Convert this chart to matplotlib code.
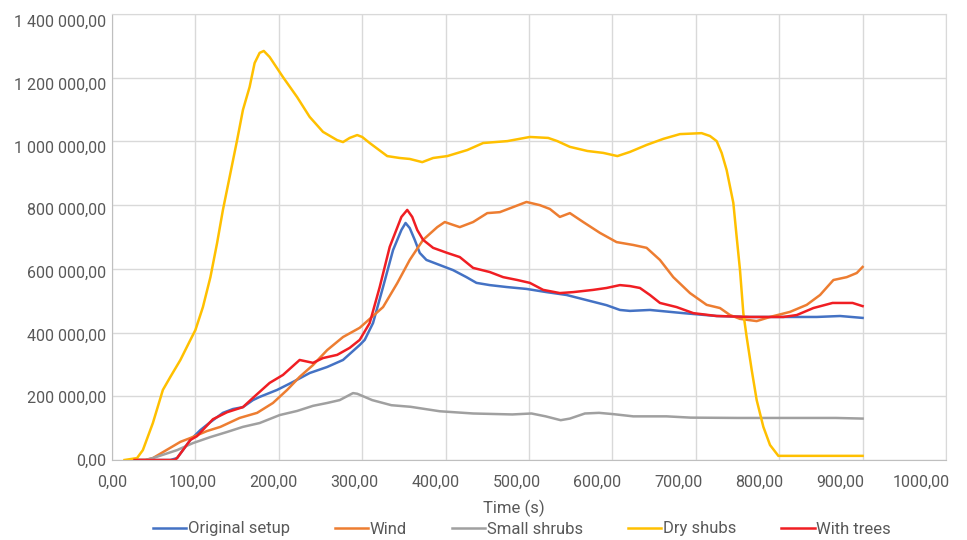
import matplotlib
matplotlib.use("Agg")
import matplotlib.pyplot as plt
from matplotlib.ticker import FuncFormatter

plt.rcParams["font.family"] = ["Roboto", "DejaVu Sans"]

# time (s) and heat release, values in thousands
t_orig = [27, 70, 78, 94, 106, 118, 133, 145, 157, 169, 177, 198, 217, 237, 258, 277, 297, 303, 313,
          325, 337, 347, 352, 357, 363, 369, 377, 393, 409, 425, 437, 453, 473, 497, 521, 545, 569,
          593, 609, 621, 645, 685, 725, 765, 805, 845, 873, 900]
v_orig = [0, 0, 6, 63, 94, 119, 148, 160, 166, 188, 198, 220, 245, 273, 292, 314, 361, 377, 430,
          543, 659, 722, 744, 728, 691, 650, 628, 612, 596, 574, 556, 549, 543, 537, 527, 518, 502,
          486, 471, 468, 471, 461, 452, 449, 449, 449, 452, 446]

t_wind = [27, 40, 49, 82, 94, 114, 130, 153, 174, 193, 210, 225, 241, 258, 277, 297, 325, 342, 357,
          373, 390, 399, 409, 417, 433, 450, 465, 481, 497, 513, 525, 537, 549, 565, 585, 605, 625,
          641, 657, 673, 693, 713, 729, 741, 753, 773, 789, 813, 833, 849, 865, 881, 893, 900]
v_wind = [0, 0, 6, 57, 69, 91, 104, 132, 148, 179, 220, 261, 298, 345, 386, 415, 480, 555, 628,
          691, 731, 747, 738, 731, 747, 775, 778, 794, 810, 800, 788, 763, 775, 747, 713, 684, 675,
          666, 628, 574, 524, 487, 477, 455, 443, 436, 449, 465, 487, 518, 565, 574, 587, 606]

t_small = [27, 40, 49, 78, 97, 118, 138, 157, 177, 201, 222, 241, 258, 273, 289, 294, 312, 335, 358,
           393, 433, 480, 503, 520, 538, 549, 567, 584, 601, 625, 665, 694, 752, 810, 868, 900]
v_small = [0, 0, 6, 31, 53, 72, 88, 104, 116, 141, 154, 170, 179, 188, 210, 208, 188, 172, 167,
           153, 146, 143, 146, 137, 125, 130, 146, 148, 144, 137, 137, 133, 132, 132, 132, 130]

t_dry = [15, 30, 37, 49, 61, 70, 82, 94, 100, 109, 118, 126, 133, 141, 150, 157, 165, 171, 177, 182,
         189, 205, 222, 237, 253, 270, 277, 285, 294, 300, 309, 330, 345, 357, 372, 385, 402, 426,
         445, 474, 501, 523, 534, 549, 570, 589, 606, 621, 641, 661, 681, 707, 717, 725, 731, 737,
         745, 749, 753, 757, 761, 767, 773, 781, 789, 799, 900]
v_dry = [0, 6, 31, 116, 220, 261, 314, 377, 408, 480, 574, 681, 785, 888, 1004, 1099, 1171, 1246,
         1278, 1284, 1265, 1202, 1139, 1077, 1030, 1004, 998, 1011, 1020, 1014, 995, 954, 948, 945,
         935, 948, 954, 973, 995, 1001, 1014, 1011, 1001, 983, 970, 964, 954, 967, 989, 1008, 1023,
         1026, 1017, 1001, 964, 910, 807, 700, 596, 461, 386, 283, 188, 104, 47, 13, 13]

t_trees = [27, 75, 78, 94, 102, 121, 138, 157, 169, 189, 205, 225, 241, 253, 270, 285, 297, 309, 321,
           333, 347, 354, 360, 366, 373, 385, 402, 417, 433, 453, 469, 486, 501, 517, 537, 553, 577,
           593, 609, 621, 633, 645, 657, 677, 697, 725, 765, 805, 821, 841, 864, 888, 900]
v_trees = [0, 0, 6, 63, 75, 128, 150, 166, 195, 242, 267, 314, 305, 320, 330, 352, 377, 430, 543,
           669, 763, 785, 763, 722, 691, 666, 650, 637, 603, 590, 574, 565, 556, 534, 524, 527, 534,
           540, 549, 546, 540, 518, 493, 480, 461, 452, 449, 449, 455, 477, 493, 493, 483]

series = [
    ("Original setup", t_orig, v_orig, "#4472C4"),
    ("Wind", t_wind, v_wind, "#ED7D31"),
    ("Small shrubs", t_small, v_small, "#A0A0A0"),
    ("Dry shubs", t_dry, v_dry, "#FFC000"),
    ("With trees", t_trees, v_trees, "#F01E23"),
]

x_ticks = list(range(0, 1001, 100))
y_ticks = list(range(0, 1400001, 200000))

fig = plt.figure(figsize=(9.67, 5.4), dpi=100)
ax = fig.add_axes([112 / 967, 80 / 540, 834 / 967, 446 / 540])

for name, t, v, color in series:
    ax.plot(t, [k * 1000 for k in v], color=color, lw=1.8, label=name)

ax.set_xlim(0, 1000)
ax.set_ylim(0, 1400000)
ax.set_xticks(x_ticks)
ax.set_yticks(y_ticks)
ax.grid(True, color="#D9D9D9", lw=1)
ax.set_axisbelow(True)
ax.tick_params(length=0, labelbottom=False, labelleft=False)
for side in ["top", "right"]:
    ax.spines[side].set_color("#D9D9D9")
for side in ["left", "bottom"]:
    ax.spines[side].set_color("#BFBFBF")

# tick labels sit slightly off the gridlines in the original
sx = ax.secondary_xaxis("bottom", functions=(lambda x: x / 0.97, lambda s: s * 0.97))
sx.set_xticks(x_ticks)
sx.xaxis.set_major_formatter(FuncFormatter(lambda v, p: f"{v:.2f}".replace(".", ",")))
sx.tick_params(length=0, pad=11, labelsize=11.5, labelcolor="#595959")
sx.spines["bottom"].set_visible(False)

sy = ax.secondary_yaxis("left", functions=(lambda y: y / 0.9843, lambda s: s * 0.9843))
sy.set_yticks(y_ticks)
sy.yaxis.set_major_formatter(
    FuncFormatter(lambda v, p: f"{v:,.2f}".replace(",", " ").replace(".", ",")))
sy.tick_params(length=0, pad=4, labelsize=11.5, labelcolor="#595959")
sy.spines["left"].set_visible(False)

fig.text(514 / 967, 1 - 508 / 540, "Time (s)", ha="center", va="center",
         fontsize=12, color="#595959")

fig.legend(loc="center", bbox_to_anchor=(522 / 967, 11 / 540), ncol=5, frameon=False,
           fontsize=12, labelcolor="#595959", handlelength=2.0, handletextpad=0.1,
           columnspacing=2.7, borderaxespad=0)

fig.savefig("out.png", dpi=100)
